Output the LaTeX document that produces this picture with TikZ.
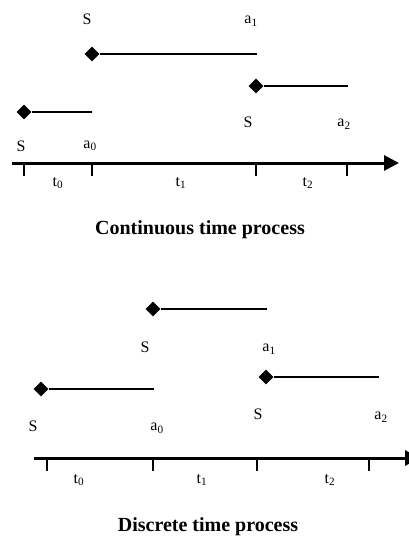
\documentclass[tikz,border=0pt]{standalone}
\usepackage{fontspec}
\setmainfont{Liberation Serif}
\usetikzlibrary{arrows.meta,shapes.geometric}

\begin{document}
\begin{tikzpicture}[
    x=1pt, y=-1pt,
    every node/.style={font=\fontsize{16}{18}\selectfont, inner sep=0pt},
    start/.style={diamond, fill=black, minimum width=15pt, minimum height=15pt},
    hold/.style={line width=2.8pt},
    axis/.style={-{Triangle[length=15pt, width=15pt]}, line width=3pt},
    tick/.style={line width=2pt},
    caption/.style={font=\fontsize{20}{22}\selectfont\bfseries}
]
\clip (0,0) rectangle (409,538);

% continuous time
\node[start] (cs0) at (24,112) {};
\coordinate (ce0) at (92,112);
\node[start] (cs1) at (92,54) {};
\coordinate (ce1) at (257,54);
\node[start] (cs2) at (256,86) {};
\coordinate (ce2) at (348,86);
\draw[hold] (cs0) -- (ce0);
\draw[hold] (cs1) -- (ce1);
\draw[hold] (cs2) -- (ce2);

\node (cls0) at (21,146) {S};
\node (cla0) at (90,146) {a\textsubscript{0}};
\node (cls1) at (87,19) {S};
\node (cla1) at (251,21) {a\textsubscript{1}};
\node (cls2) at (248,122) {S};
\node (cla2) at (344,124) {a\textsubscript{2}};

\coordinate (cax0) at (12,163);
\coordinate (cax1) at (399,163);
\draw[axis] (cax0) -- (cax1);
\foreach \x [count=\i] in {24,92,256,347}
    \draw[tick] (\x,163) -- (\x,176);
\node (ct0) at (58,183) {t\textsubscript{0}};
\node (ct1) at (181,183) {t\textsubscript{1}};
\node (ct2) at (308,183) {t\textsubscript{2}};
\node[caption] (ccap) at (200,230) {Continuous time process};

% discrete time
\node[start] (ds0) at (41,389) {};
\coordinate (de0) at (154,389);
\node[start] (ds1) at (153,309) {};
\coordinate (de1) at (267,309);
\node[start] (ds2) at (266,377) {};
\coordinate (de2) at (379,377);
\draw[hold] (ds0) -- (de0);
\draw[hold] (ds1) -- (de1);
\draw[hold] (ds2) -- (de2);

\node (dls0) at (33,426) {S};
\node (dla0) at (157,428) {a\textsubscript{0}};
\node (dls1) at (145,347) {S};
\node (dla1) at (269,349) {a\textsubscript{1}};
\node (dls2) at (258,414) {S};
\node (dla2) at (381,417) {a\textsubscript{2}};

\coordinate (dax0) at (34,458);
\coordinate (dax1) at (420,458);
\draw[axis] (dax0) -- (dax1);
\foreach \x [count=\i] in {47,153,257,369}
    \draw[tick] (\x,458) -- (\x,471);
\node (dt0) at (79,480) {t\textsubscript{0}};
\node (dt1) at (202,480) {t\textsubscript{1}};
\node (dt2) at (330,480) {t\textsubscript{2}};
\node[caption] (dcap) at (208,527) {Discrete time process};
\end{tikzpicture}
\end{document}
